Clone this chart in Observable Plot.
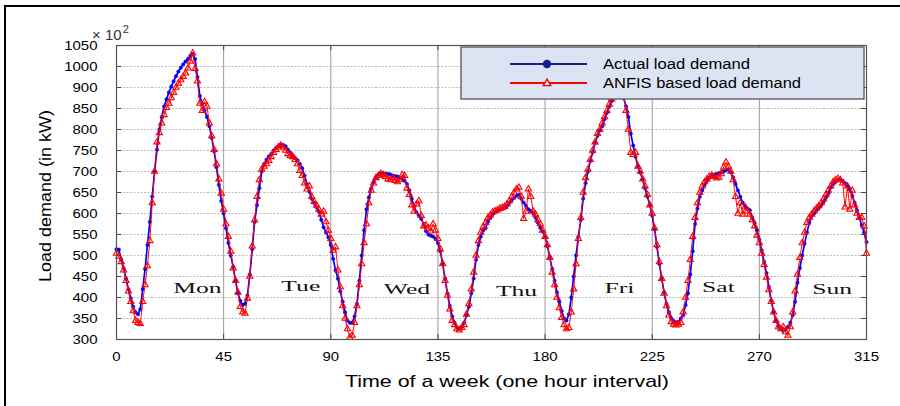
<!DOCTYPE html>
<html>
<head>
<meta charset="utf-8">
<script src="https://cdn.jsdelivr.net/npm/d3@7"></script>
<script src="https://cdn.jsdelivr.net/npm/@observablehq/plot@0.6"></script>
<style>
  html, body { margin: 0; padding: 0; background: #fff; }
  #chart { width: 900px; height: 406px; overflow: hidden; }
</style>
</head>
<body>
<div id="chart"></div>
<script>
// Hourly load over one week (kW, x10^2 scale units of the axis)
const actualLoad = [
  515, 514, 490, 470, 445, 420, 398, 378, 365, 360,
  372, 420, 468, 525, 580, 640, 700, 752, 800, 830,
  855, 872, 888, 902, 915, 927, 938, 947, 955, 962,
  968, 975, 980, 968, 925, 880, 862, 845, 830, 808,
  780, 748, 710, 668, 630, 600, 565, 530, 500, 473,
  440, 410, 392, 382, 385, 405, 455, 515, 580, 620,
  660, 700, 718, 728, 736, 742, 750, 756, 760, 763,
  763, 760, 752, 745, 738, 732, 727, 718, 708, 690,
  670, 652, 635, 625, 615, 605, 585, 567, 555, 543,
  525, 492, 465, 445, 415, 390, 365, 345, 340, 340,
  355, 385, 440, 500, 560, 610, 638, 660, 675, 686,
  692, 695, 696, 695, 694, 693, 690, 689, 688, 685,
  682, 678, 670, 655, 635, 618, 603, 595, 587, 575,
  558, 550, 547, 545, 540, 530, 510, 480, 445, 410,
  380, 355, 340, 328, 325, 330, 340, 358, 378, 410,
  445, 490, 525, 545, 560, 565, 580, 590, 598, 603,
  607, 610, 611, 613, 618, 625, 632, 637, 642, 645,
  635, 626, 618, 610, 606, 601, 590, 578, 566, 557,
  545, 522, 495, 468, 440, 412, 390, 368, 350, 345,
  360, 400, 450, 500, 545, 585, 635, 672, 700, 725,
  746, 768, 785, 798, 808, 825, 840, 855, 868, 878,
  888, 898, 905, 875, 855, 830, 790, 762, 735, 712,
  697, 681, 660, 640, 620, 595, 562, 520, 480, 445,
  412, 385, 365, 350, 344, 341, 342, 350, 358, 382,
  410, 455, 510, 575, 612, 640, 655, 668, 678, 685,
  690, 692, 694, 696, 698, 700, 703, 705, 698, 686,
  670, 655, 640, 626, 618, 612, 608, 590, 577, 560,
  537, 512, 485, 458, 425, 393, 365, 345, 332, 325,
  321, 324, 330, 340, 358, 390, 435, 470, 500, 528,
  555, 578, 594, 600, 608, 614, 620, 628, 638, 648,
  662, 670, 677, 681, 680, 678, 672, 665, 657, 642,
  626, 608, 590, 572, 555, 532
];

const anfisLoad = [
  505, 498, 485, 465, 440, 415, 390, 368, 345, 340,
  338, 390, 430, 475, 535, 625, 700, 770, 792, 815,
  835, 852, 862, 875, 888, 900, 910, 918, 926, 934,
  946, 962, 982, 945, 915, 862, 845, 866, 855, 815,
  785, 752, 718, 682, 648, 610, 575, 545, 510, 470,
  440, 412, 378, 365, 362, 398, 450, 522, 585, 640,
  680, 705, 712, 718, 726, 735, 745, 752, 758, 762,
  758, 750, 742, 738, 735, 728, 718, 702, 690, 672,
  658, 665, 640, 628, 620, 610, 598, 605, 580, 560,
  540, 512, 520, 465, 425, 380, 350, 325, 305, 310,
  340, 380, 430, 480, 530, 575, 625, 655, 672, 685,
  690, 695, 692, 688, 682, 680, 685, 678, 675, 680,
  692, 690, 660, 645, 620, 605, 622, 630, 595, 570,
  572, 565, 558, 575, 560, 540, 515, 480, 440, 405,
  372, 345, 335, 325, 322, 328, 335, 360, 385, 420,
  460, 500, 535, 555, 568, 578, 590, 596, 603, 606,
  608, 612, 614, 616, 622, 630, 640, 650, 658, 662,
  640, 588, 605, 658, 640, 605, 598, 585, 575, 560,
  545, 525, 495, 460, 430, 400, 375, 352, 335, 325,
  328, 365, 420, 480, 540, 590, 650, 685, 705, 728,
  750, 770, 790, 800, 815, 830, 845, 860, 872, 880,
  890, 900, 905, 885, 845, 800, 745, 740, 745, 712,
  700, 682, 665, 645, 620, 600, 565, 525, 485, 445,
  410, 380, 358, 342, 336, 334, 336, 340, 365, 400,
  440, 490, 545, 590, 625, 650, 665, 675, 682, 688,
  690, 688, 684, 686, 694, 710, 722, 712, 700, 680,
  640, 600, 625, 598, 615, 605, 598, 585, 570, 548,
  530, 505, 478, 448, 418, 390, 365, 345, 330, 325,
  330, 318, 310, 330, 365, 415, 455, 495, 530, 555,
  578, 590, 598, 606, 612, 618, 625, 635, 645, 655,
  665, 675, 680, 683, 680, 672, 615, 665, 610, 655,
  620, 600, 590, 590, 570, 505
];

const xTicks = [0, 45, 90, 135, 180, 225, 270, 315];
const yTicks = [300, 350, 400, 450, 500, 550, 600, 650, 700, 750, 800, 850, 900, 950, 1000];
const yTickLabels = ["300", "350", "400", "450", "500", "550", "600", "650", "700", "750", "800", "850", "900", "1000", "1050"];

// Day annotations placed inside each daily cycle
const dayNames = ["Mon", "Tue", "Wed", "Thu", "Fri", "Sat", "Sun"];
const dayHour = [34, 77.4, 122, 168, 211.2, 252.8, 300.6];
const dayLevel = [422, 427, 419, 415, 422, 424, 419];

const seriesNames = ["Actual load demand", "ANFIS based load demand"];

const hours = d3.range(actualLoad.length);
const actual = hours.map(h => ({hour: h, load: actualLoad[h]}));
const anfis = hours.map(h => ({hour: h, load: anfisLoad[h]}));
const days = dayNames.map((name, i) => ({name, hour: dayHour[i], level: dayLevel[i]}));

const sans = "'Liberation Sans', Arial, Helvetica, sans-serif";
const serif = "'Liberation Serif', 'Times New Roman', serif";
const blue = "#0000ff";
const red = "#ff0000";

const chart = Plot.plot({
  width: 900,
  height: 406,
  marginLeft: 116,
  marginRight: 34,
  marginTop: 45,
  marginBottom: 67,
  style: {fontFamily: sans, fontSize: "13px", color: "#000", background: "#fff", overflow: "visible"},
  x: {domain: [0, 315], label: null},
  y: {domain: [300, 1000], label: null},
  marks: [
    Plot.gridY(yTicks, {stroke: "#bdbdbd", strokeOpacity: 1, strokeDasharray: "2,1.5"}),
    Plot.gridX(xTicks.slice(1, -1), {stroke: "#9a9a9a", strokeOpacity: 1}),
    Plot.axisX(xTicks, {anchor: "bottom", tickSize: 0, tickPadding: 12, fontSize: 13}),
    Plot.axisY(yTicks, {anchor: "left", tickSize: 0, tickPadding: 19, fontSize: 13,
      tickFormat: d => yTickLabels[yTicks.indexOf(d)]}),
    // short inward ticks on all four sides of the box
    Plot.ruleY(yTicks, {x1: 0, x2: 2.2, stroke: "#444"}),
    Plot.ruleY(yTicks, {x1: 312.8, x2: 315, stroke: "#444"}),
    Plot.ruleX(xTicks, {y1: 300, y2: 312, stroke: "#444"}),
    Plot.ruleX(xTicks, {y1: 988, y2: 1000, stroke: "#444"}),
    Plot.line(actual, {x: "hour", y: "load", stroke: blue, strokeWidth: 1.7}),
    Plot.dot(actual, {x: "hour", y: "load", r: 1.7, fill: blue, stroke: blue, strokeWidth: 0.5}),
    Plot.line(anfis, {x: "hour", y: "load", stroke: red, strokeWidth: 1.1, strokeDasharray: "1.5,1"}),
    Plot.dot(anfis, {x: "hour", y: "load", symbol: "triangle", r: 2.3, stroke: red, fill: "none", strokeWidth: 1.1}),
    Plot.text(days, {x: "hour", y: "level", text: "name", fontFamily: serif, fontSize: 15.5,
      fill: "#111", textAnchor: "middle", className: "day-label"}),
    Plot.frame({stroke: "#555", strokeWidth: 1.2})
  ]
});

document.getElementById("chart").appendChild(chart);
const svg = d3.select(chart);

// widen glyphs horizontally, the way the figure's fonts are drawn
function stretch(node, k) {
  const w = node.getComputedTextLength();
  node.setAttribute("textLength", (w * k).toFixed(1));
  node.setAttribute("lengthAdjust", "spacingAndGlyphs");
}
svg.selectAll("g[aria-label='x-axis tick label'] text, g[aria-label='y-axis tick label'] text")
  .each(function() { stretch(this, 1.15); });
svg.selectAll(".day-label text").each(function() { stretch(this, 1.65); });

// axis titles and the exponent note
svg.append("text")
  .attr("transform", "translate(51,196) rotate(-90)")
  .attr("text-anchor", "middle")
  .attr("font-family", sans).attr("font-size", 17)
  .attr("textLength", 172).attr("lengthAdjust", "spacingAndGlyphs")
  .text("Load demand (in kW)");

svg.append("text")
  .attr("x", 507).attr("y", 387)
  .attr("text-anchor", "middle")
  .attr("font-family", sans).attr("font-size", 17)
  .attr("textLength", 324).attr("lengthAdjust", "spacingAndGlyphs")
  .text("Time of a week (one hour interval)");

const expo = svg.append("text")
  .attr("x", 92).attr("y", 40)
  .attr("text-anchor", "start")
  .attr("font-family", sans).style("font-size", "15px").attr("fill", "#333");
expo.append("tspan").text("\u00d7 10");
expo.append("tspan").attr("dx", 1).attr("dy", -7).style("font-size", "11px").text("2");

// legend box
const legend = svg.append("g").attr("text-anchor", "start");
legend.append("rect")
  .attr("x", 461).attr("y", 47).attr("width", 403).attr("height", 52)
  .attr("fill", "#dce3f2").attr("stroke", "#555").attr("stroke-width", 1.3);
const rowY = [64, 83];
const keyColor = ["#14208c", red];
seriesNames.forEach((name, i) => {
  legend.append("line")
    .attr("x1", 510).attr("x2", 587).attr("y1", rowY[i]).attr("y2", rowY[i])
    .attr("stroke", keyColor[i]).attr("stroke-width", 2);
  if (i === 0) {
    legend.append("circle").attr("cx", 547).attr("cy", rowY[i]).attr("r", 4.2).attr("fill", keyColor[i]);
  } else {
    legend.append("path")
      .attr("d", d3.symbol(d3.symbolTriangle2, 40)())
      .attr("transform", `translate(547,${rowY[i] + 0.5})`)
      .attr("fill", "#fff").attr("stroke", red).attr("stroke-width", 1.4);
  }
  legend.append("text")
    .attr("x", 603).attr("y", rowY[i] + 5)
    .attr("text-anchor", "start")
    .attr("font-family", sans).attr("font-size", 14)
    .attr("textLength", i === 0 ? 147 : 198).attr("lengthAdjust", "spacingAndGlyphs")
    .text(name);
});

// figure border
svg.append("path")
  .attr("d", "M5,406V6H900")
  .attr("fill", "none").attr("stroke", "#000").attr("stroke-width", 2);
</script>
</body>
</html>
